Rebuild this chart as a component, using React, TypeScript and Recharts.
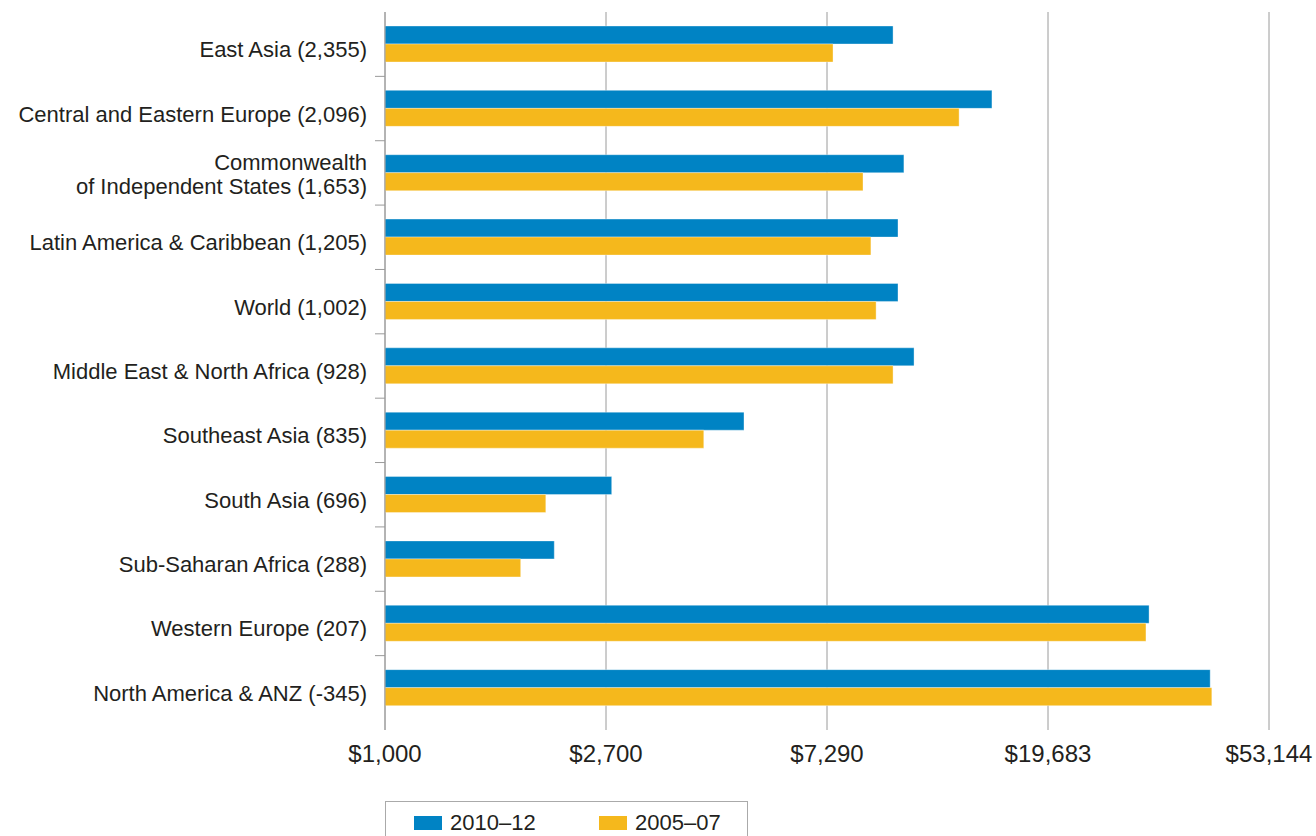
import { BarChart, Bar, XAxis, YAxis, CartesianGrid } from 'recharts'

const regions = [
  'East Asia (2,355)',
  'Central and Eastern Europe (2,096)',
  'Commonwealth\nof Independent States (1,653)',
  'Latin America & Caribbean (1,205)',
  'World (1,002)',
  'Middle East & North Africa (928)',
  'Southeast Asia (835)',
  'South Asia (696)',
  'Sub-Saharan Africa (288)',
  'Western Europe (207)',
  'North America & ANZ (-345)',
]
const recent = [9810, 15300, 10300, 10030, 10030, 10780, 5020, 2770, 2140, 31000, 40800]
const earlier = [7490, 13200, 8570, 8880, 9090, 9810, 4190, 2060, 1840, 30570, 41100]
const xTicks = [1000, 2700, 7290, 19683, 53144]

const data = regions.map((region, i) => ({ region, recent: recent[i], earlier: earlier[i] }))

const FONT = '"Liberation Sans", Arial, Helvetica, sans-serif'
const TEXT = '#231f20'
const GRID = '#9a9a9a'
const BLUE = '#0083c4'
const YELLOW = '#f5b81c'

const TOP = 12
const AXIS_X = 385
const PAD_BOTTOM = 10
const PLOT_BOTTOM = 730
const BAND = (PLOT_BOTTOM - TOP - PAD_BOTTOM) / regions.length

const fmtMoney = (v: number) => '$' + v.toLocaleString('en-US')

// labels sit a little under the bar pair, multi-line ones are centred
const RegionTick = ({ y, payload, index }: any) => {
  const lines = String(payload.value).split('\n')
  const lh = 24
  const start = y - ((lines.length - 1) * lh) / 2 + (lines.length > 1 ? 1 : 5)
  return (
    <g>
      {index < regions.length - 1 && (
        <line x1={AXIS_X - 10} x2={AXIS_X} y1={y + BAND / 2} y2={y + BAND / 2} stroke={GRID} strokeWidth={1} />
      )}
      <text x={AXIS_X - 18} y={start} textAnchor="end" dominantBaseline="central" fill={TEXT} fontSize={22} fontFamily={FONT}>
        {lines.map((l, i) => (
          <tspan key={i} x={AXIS_X - 18} y={start + i * lh}>
            {l}
          </tspan>
        ))}
      </text>
    </g>
  )
}

const LegendBox = () => (
  <div
    style={{
      position: 'absolute',
      left: AXIS_X,
      top: 801,
      width: 363,
      height: 40,
      border: '1px solid #aaa',
      boxSizing: 'border-box',
      fontFamily: FONT,
      fontSize: 22,
      color: TEXT,
    }}
  >
    {[
      { label: '2010–12', color: BLUE, left: 28 },
      { label: '2005–07', color: YELLOW, left: 213 },
    ].map((it) => (
      <div key={it.label} style={{ position: 'absolute', left: it.left, top: 9, display: 'flex', alignItems: 'center' }}>
        <div style={{ width: 28, height: 14, background: it.color, marginRight: 8 }} />
        <span style={{ lineHeight: '24px' }}>{it.label}</span>
      </div>
    ))}
  </div>
)

export default function App() {
  return (
    <div style={{ position: 'absolute', left: 0, top: 0, width: 1316, height: 836, background: '#fff', overflow: 'hidden' }}>
      <BarChart
        width={1316}
        height={790}
        data={data}
        layout="vertical"
        margin={{ top: TOP, right: 47, left: 0, bottom: 20 }}
        barCategoryGap={0}
        barGap={0}
      >
        <CartesianGrid horizontal={false} vertical stroke={GRID} strokeWidth={1} />
        <XAxis
          type="number"
          scale="log"
          dataKey="recent"
          domain={[1000, 53144]}
          allowDataOverflow
          ticks={xTicks}
          tickFormatter={fmtMoney}
          axisLine={false}
          tickLine={false}
          tickMargin={9}
          height={40}
          tick={{ fill: TEXT, fontSize: 24, fontFamily: FONT }}
        />
        <YAxis
          type="category"
          dataKey="region"
          width={AXIS_X}
          axisLine={{ stroke: GRID }}
          tickLine={false}
          padding={{ top: 0, bottom: PAD_BOTTOM }}
          interval={0}
          tick={<RegionTick />}
        />
        <Bar dataKey="recent" fill={BLUE} barSize={18} stroke="#ffffff" strokeOpacity={0.35} isAnimationActive={false} />
        <Bar dataKey="earlier" fill={YELLOW} barSize={18} stroke="#ffffff" strokeOpacity={0.35} isAnimationActive={false} />
      </BarChart>
      <LegendBox />
    </div>
  )
}
